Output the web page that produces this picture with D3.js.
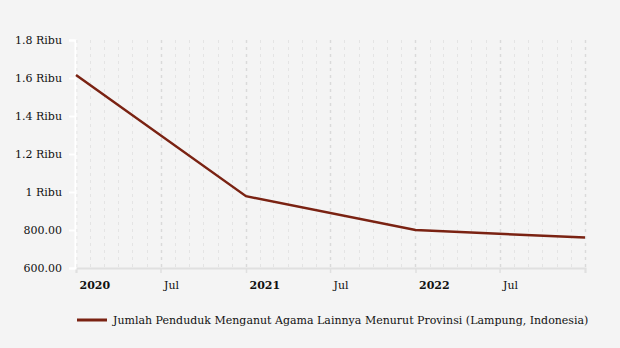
<!DOCTYPE html>
<meta charset="utf-8">
<style>
body { margin: 0; background: #f4f4f4; font-family: 'DejaVu Serif', serif; }
text { fill: #111; font-size: 11px; }
.grid-minor line { stroke: #e4e4e4; stroke-dasharray: 3,4; }
.grid-major line { stroke: #dadada; stroke-dasharray: 3,4; stroke-width: 1.5px; }
.data-line { fill: none; stroke: #7a2212; stroke-width: 2.5px; }
</style>
<body>
<svg width="620" height="348"></svg>
<script src="https://d3js.org/d3.v7.min.js"></script>
<script>
var dates = ["2020-01-01", "2021-01-01", "2022-01-01", "2023-01-01"];
var values = [1616, 978, 800, 760];
var yTicks = [600, 800, 1000, 1200, 1400, 1600, 1800];
var seriesName = "Jumlah Penduduk Menganut Agama Lainnya Menurut Provinsi (Lampung, Indonesia)";

var parse = d3.timeParse("%Y-%m-%d");
var data = dates.map(function(d, i) { return { date: parse(d), value: values[i] }; });

var svg = d3.select("svg");
svg.append("rect").attr("width", 620).attr("height", 348).attr("fill", "#f4f4f4");

var plotLeft = 76, plotRight = 585, plotTop = 40, plotBottom = 268;

var x = d3.scaleTime().domain([parse("2020-01-01"), parse("2023-01-01")]).range([plotLeft, plotRight]);
var y = d3.scaleLinear().domain([600, 1800]).range([plotBottom, plotTop]);

// monthly grid
var months = d3.timeMonth.range(parse("2020-01-01"), parse("2023-01-02"));
svg.append("g").attr("class", "grid-minor")
  .selectAll("line").data(months.filter(function(d) { return d.getMonth() % 6 !== 0; }))
  .enter().append("line")
  .attr("x1", function(d) { return Math.round(x(d)) + 0.5; })
  .attr("x2", function(d) { return Math.round(x(d)) + 0.5; })
  .attr("y1", plotTop).attr("y2", plotBottom);

var majors = months.filter(function(d) { return d.getMonth() % 6 === 0; });
svg.append("g").attr("class", "grid-major")
  .selectAll("line").data(majors)
  .enter().append("line")
  .attr("x1", function(d) { return Math.round(x(d)) + 0.5; })
  .attr("x2", function(d) { return Math.round(x(d)) + 0.5; })
  .attr("y1", plotTop).attr("y2", plotBottom);

// x axis
var xAxis = svg.append("g")
  .attr("transform", "translate(0," + plotBottom + ")")
  .call(d3.axisBottom(x).tickValues(majors).tickSize(5).tickPadding(8)
    .tickFormat(function(d) { return d.getMonth() === 0 ? d3.timeFormat("%Y")(d) : "Jul"; }));
xAxis.select(".domain").attr("stroke", "#e0e0e0").attr("stroke-width", 2);
xAxis.selectAll(".tick line").attr("stroke", "#e0e0e0").attr("stroke-width", 1.5);
xAxis.selectAll(".tick text")
  .attr("text-anchor", "start").attr("dx", 3)
  .attr("font-family", "'DejaVu Serif', serif").attr("font-size", 11)
  .attr("fill", "#111")
  .attr("font-weight", function(d) { return d.getMonth() === 0 ? "bold" : "normal"; })
  .filter(function(d) { return +d === +parse("2023-01-01"); }).remove();

// y axis
var yAxis = svg.append("g")
  .attr("transform", "translate(" + (plotLeft - 1) + ",0)")
  .call(d3.axisLeft(y).tickValues(yTicks).tickSize(6).tickPadding(7)
    .tickFormat(function(d) { return d >= 1000 ? d3.format("~g")(d / 1000) + " Ribu" : d3.format(".2f")(d); }));
yAxis.select(".domain").attr("stroke", "#ffffff").attr("stroke-width", 2);
yAxis.selectAll(".tick line").attr("stroke", "#ffffff").attr("stroke-width", 2);
yAxis.selectAll(".tick text")
  .attr("font-family", "'DejaVu Serif', serif").attr("font-size", 11).attr("fill", "#111");

// data line
var line = d3.line().x(function(d) { return x(d.date); }).y(function(d) { return y(d.value); });
svg.append("path").datum(data).attr("class", "data-line").attr("d", line);

// legend
var legend = svg.append("g").attr("transform", "translate(77,320)");
legend.append("line").attr("x1", 0).attr("x2", 30).attr("y1", 0).attr("y2", 0)
  .attr("stroke", "#7a2212").attr("stroke-width", 3);
legend.append("text").attr("x", 36).attr("y", 4).text(seriesName);
</script>
</body>
